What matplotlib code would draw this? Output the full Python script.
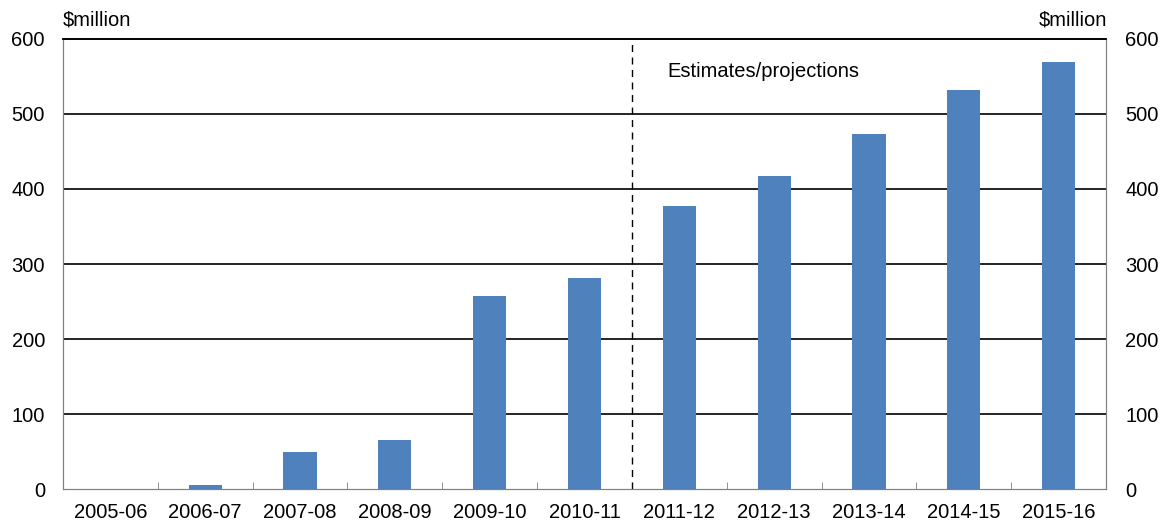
import matplotlib.pyplot as plt
import numpy as np

plt.rcParams['font.family'] = ['Liberation Sans', 'DejaVu Sans']

years = ["2005-06", "2006-07", "2007-08", "2008-09", "2009-10", "2010-11",
         "2011-12", "2012-13", "2013-14", "2014-15", "2015-16"]
values = [0, 6, 49, 65, 257, 281, 377, 417, 473, 532, 569]

bar_color = "#4f81bd"
fs = 14.5

fig = plt.figure(figsize=(11.7, 5.27), dpi=100)
ax = fig.add_axes([0.0538, 0.0721, 0.8915, 0.8539])

x = np.arange(len(years))
ax.bar(x, values, width=0.35, color=bar_color, zorder=3)

ax.set_xlim(-0.5, len(years) - 0.5)
ax.set_ylim(0, 600)
ax.set_yticks(range(0, 601, 100))
for y in range(100, 600, 100):
    ax.axhline(y, color="black", lw=1.2, zorder=2)

ax.set_xticks(x)
ax.set_xticklabels(years, fontsize=fs)
ax.tick_params(axis="x", length=0, pad=10)
ax.set_xticks(np.arange(0.5, len(years) - 1, 1), minor=True)
ax.tick_params(axis="x", which="minor", direction="in", length=5, color="#808080")

ax.tick_params(axis="y", length=0, labelsize=fs, pad=13)
ax2 = ax.twinx()
ax2.set_ylim(0, 600)
ax2.set_yticks(range(0, 601, 100))
ax2.tick_params(axis="y", length=0, labelsize=fs, pad=14)

for a in (ax, ax2):
    for s in ("left", "right", "bottom"):
        a.spines[s].set_color("#808080")
    a.spines["top"].set_color("black")
    a.spines["top"].set_linewidth(1.2)

ax.axvline(5.5, color="black", lw=1, ls=(0, (5, 4)), zorder=4)
ax.text(5.87, 556, "Estimates/projections", fontsize=fs, va="center", ha="left")

fig.text(63 / 1170, 1 - 20 / 527, "$million", fontsize=fs, ha="left", va="center")
fig.text(1107 / 1170, 1 - 20 / 527, "$million", fontsize=fs, ha="right", va="center")

fig.savefig("out.png", dpi=100)
